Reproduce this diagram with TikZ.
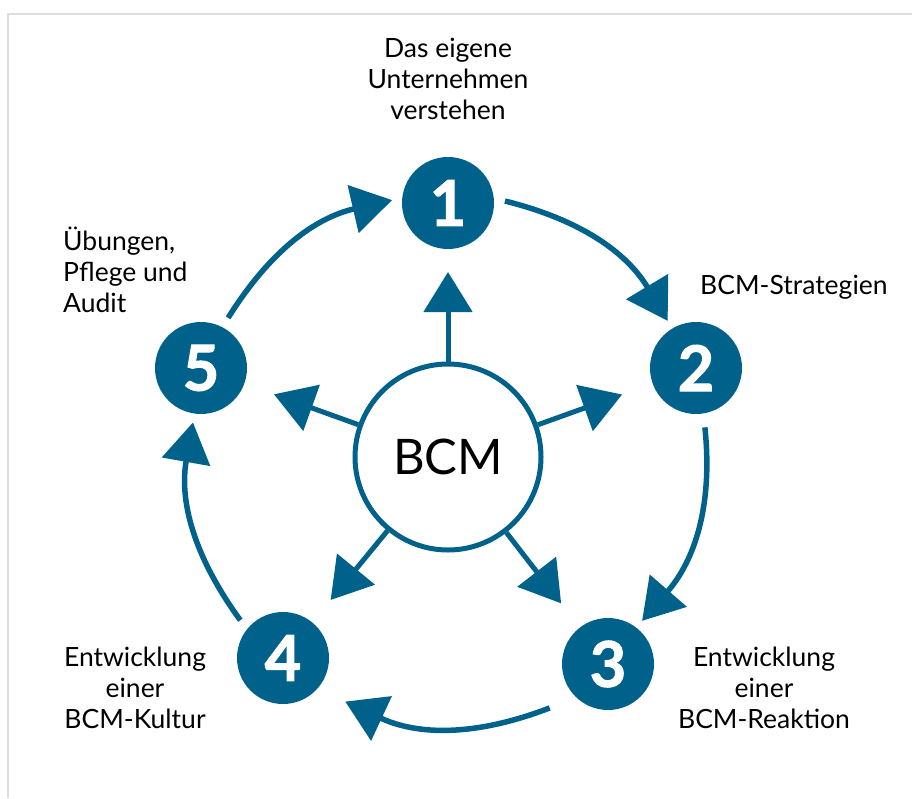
\documentclass[tikz,border=0pt]{standalone}
\usepackage{fontspec}
\setmainfont{Lato}
\newfontfamily\digitfont{Lato}[BoldFeatures={FakeBold=1.6}]
\usetikzlibrary{arrows.meta,calc}
\definecolor{bcmblue}{RGB}{0,98,139}
\definecolor{framegray}{RGB}{222,222,222}

\begin{document}
\begin{tikzpicture}[x=1pt,y=1pt,
  phase/.style={circle, fill=bcmblue, minimum size=92pt, inner sep=0pt,
    text=white, font=\digitfont\fontsize{63}{63}\selectfont\bfseries},
  core/.style={circle, draw=bcmblue, line width=5pt, fill=white,
    minimum size=186pt, inner sep=0pt, font=\fontsize{49}{49}\selectfont},
  caption/.style={font=\fontsize{26.5}{31}\selectfont, align=center,
    inner sep=0pt, text=black},
  cyc/.style={draw=bcmblue, line width=5.5pt,
    -{Triangle[length=40pt,width=48pt]}},
  spoke/.style={draw=bcmblue, line width=5pt,
    -{Triangle[length=40pt,width=48pt]}},
]
\useasboundingbox (0,0) rectangle (912,-798);

% thin page frame
\draw[framegray, line width=1.5pt] (8,-798) -- (8,-14) -- (912,-14);

% phases of the cycle
\node[phase] (n1) at (448,-203) {1};
\node[phase] (n2) at (696,-368) {2};
\node[phase] (n3) at (608,-664) {3};
\node[phase] (n4) at (283,-658) {4};
\node[phase] (n5) at (201,-368) {5};

% centre
\node[core] (bcm) at (448,-457) {BCM};

% cycle arrows
\draw[cyc] ([shift={(61.6:57)}]n5.center) to[out=58,in=193]
           ([shift={(177:56)}]n1.center);
\draw[cyc] ([shift={(2:57)}]n1.center) to[out=-14,in=121]
           ([shift={(121:55)}]n2.center);
\draw[cyc] ([shift={(-81.5:60)}]n2.center) to[out=-84,in=49]
           ([shift={(51.7:55)}]n3.center);
\draw[cyc] ([shift={(217:73)}]n3.center) to[out=201,in=-25]
           ([shift={(-35:76)}]n4.center);
\draw[cyc] ([shift={(138.5:57)}]n4.center) to[out=126,in=260]
           ([shift={(261.6:55)}]n5.center);

% spokes from the centre
\foreach \n in {n1,n2,n3,n4,n5}
  \draw[spoke] (bcm) -- ($(bcm.center)!185pt!(\n.center)$);

% captions
\node[caption] (t1) at (448,-79) {Das eigene\\Unternehmen\\verstehen};
\node[caption, anchor=west] (t2) at (700,-287) {BCM-Strategien};
\node[caption, align=left, anchor=west] (t5) at (63,-270)
  {Übungen,\\Pflege und\\Audit};
\node[caption] (t4) at (135,-688) {Entwicklung\\einer\\BCM-Kultur};
\node[caption] (t3) at (764,-688) {Entwicklung\\einer\\BCM-Reaktion};
\end{tikzpicture}
\end{document}
